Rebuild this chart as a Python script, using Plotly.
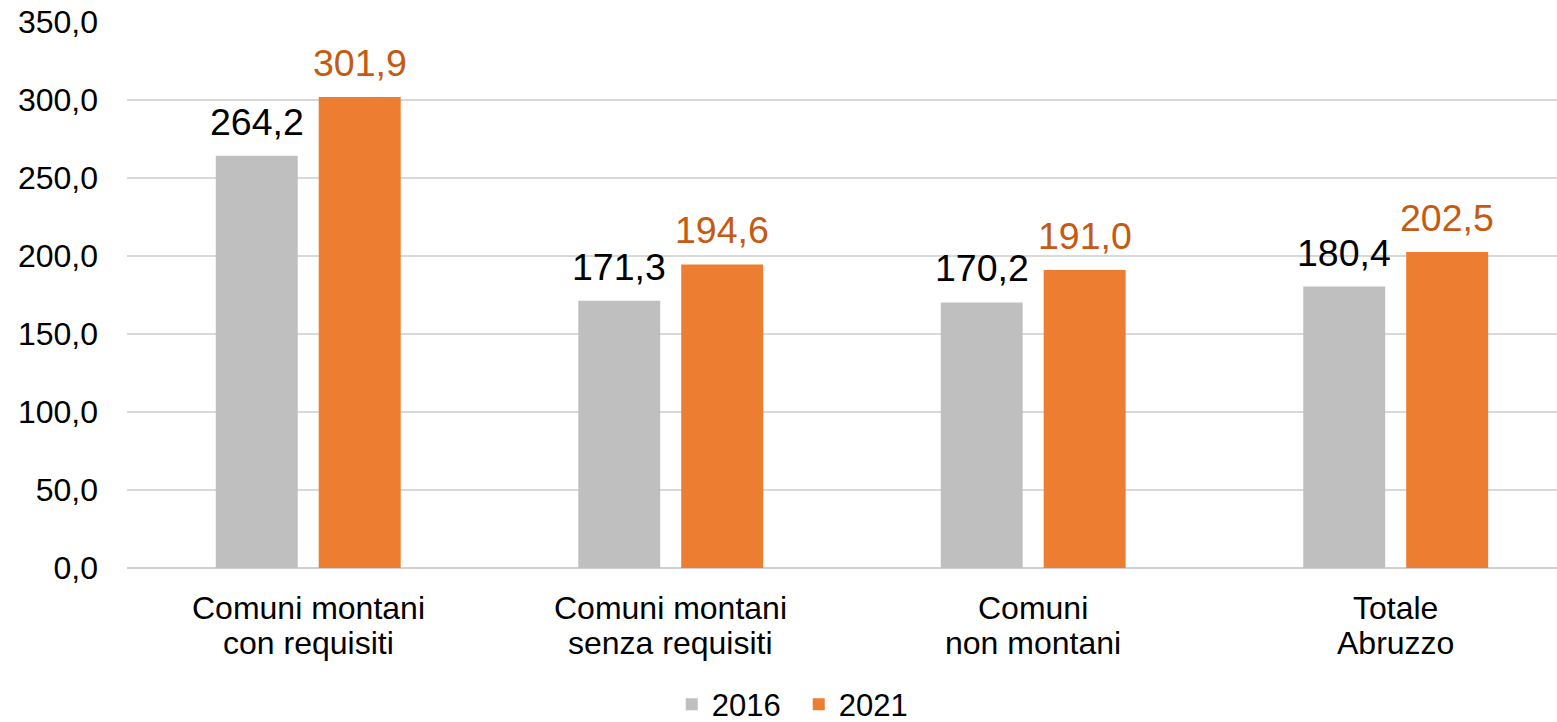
import plotly.graph_objects as go

categories = ["Comuni montani<br>con requisiti", "Comuni montani<br>senza requisiti",
              "Comuni<br>non montani", "Totale<br>Abruzzo"]
years = ["2016", "2021"]
values_2016 = [264.2, 171.3, 170.2, 180.4]
values_2021 = [301.9, 194.6, 191.0, 202.5]
tick_vals = [0, 50, 100, 150, 200, 250, 300, 350]
tick_text = ["0,0", "50,0", "100,0", "150,0", "200,0", "250,0", "300,0", "350,0"]

bar_colors = ["#BFBFBF", "#ED7D31"]
label_colors = ["#000000", "#C55A11"]
FONT = "Liberation Sans, Arial, sans-serif"

idx = list(range(len(categories)))
fig = go.Figure()
for name, vals, col in zip(years, [values_2016, values_2021], bar_colors):
    fig.add_trace(go.Bar(x=idx, y=vals, name=name, marker_color=col,
                         marker_line_width=0, hoverinfo="skip"))

annotations = []
slot_px = 51.5
for k, (vals, lc) in enumerate(zip([values_2016, values_2021], label_colors)):
    shift = -slot_px if k == 0 else slot_px
    for i, v in enumerate(vals):
        annotations.append(dict(x=i, y=v, xref="x", yref="y", text=f"{v:.1f}".replace(".", ","),
                                showarrow=False, yanchor="bottom", xanchor="center",
                                xshift=shift, yshift=11,
                                font=dict(family=FONT, size=37.5, color=lc)))
for i, c in enumerate(categories):
    lines = c.split("<br>")
    for j, ln in enumerate(lines):
        annotations.append(dict(x=i, y=0, xref="x", yref="paper", text=ln, showarrow=False,
                                yanchor="top", xanchor="center", yshift=-20 - 35 * j,
                                font=dict(family=FONT, size=32, color="#000000")))

fig.update_layout(
    width=1557, height=722,
    margin=dict(l=127, r=0, t=22, b=154, autoexpand=False),
    paper_bgcolor="white", plot_bgcolor="white",
    barmode="group", bargap=0.432, bargroupgap=0.204,
    font=dict(family=FONT, color="#000000"),
    showlegend=True,
    legend=dict(orientation="h", xref="container", yref="container",
                x=0.513, xanchor="center", y=0.024, yanchor="middle",
                font=dict(family=FONT, size=31, color="#000000"),
                itemwidth=30, entrywidth=82, traceorder="normal"),
    annotations=annotations,
)
fig.update_xaxes(range=[-0.5, 3.445], showticklabels=False, showgrid=False,
                 zeroline=False, showline=False, ticks="")
fig.update_yaxes(range=[0, 350], tickvals=tick_vals, ticktext=tick_text,
                 tickfont=dict(family=FONT, size=32, color="#000000"),
                 showgrid=True, gridcolor="#D9D9D9", gridwidth=1.5,
                 zeroline=True, zerolinecolor="#D0D0D0", zerolinewidth=1.5,
                 showline=False, ticks="", ticklabelstandoff=28, automargin=False)

fig.write_html("out.html", config={"displayModeBar": False},
               post_script="document.body.style.margin='0';document.body.style.overflow='hidden';")
